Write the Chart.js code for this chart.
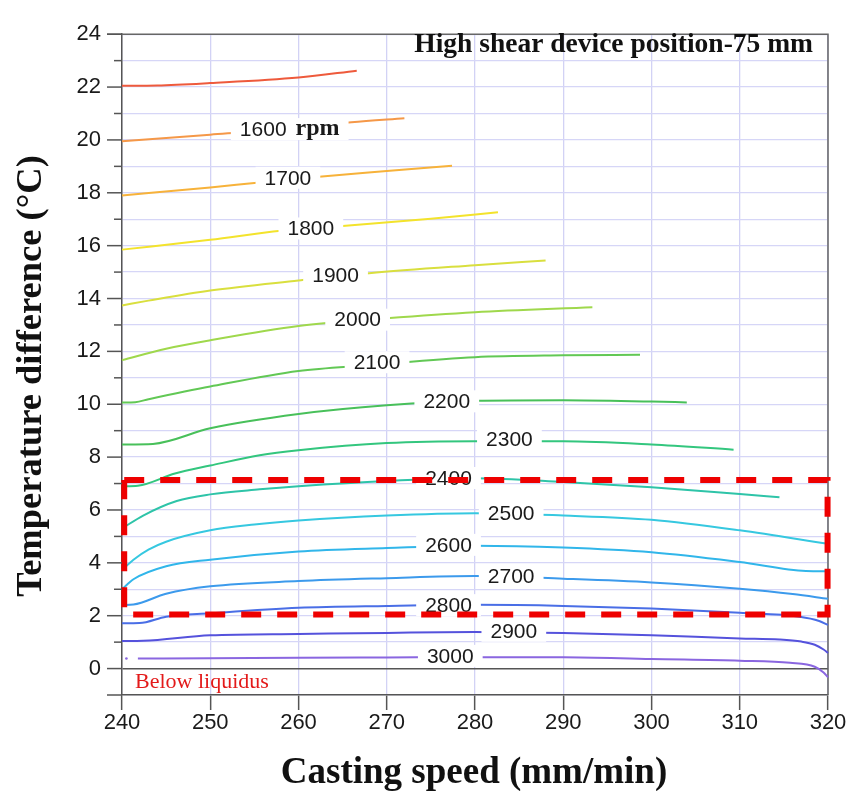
<!DOCTYPE html>
<html>
<head>
<meta charset="utf-8">
<script src="https://cdn.jsdelivr.net/npm/chart.js@4.4.1/dist/chart.umd.min.js"></script>
<style>
  body { margin: 0; background: #fff; }
  canvas { display: block; }
</style>
</head>
<body>
<canvas id="grafico" width="847" height="791"></canvas>
<script>
// Datos (velocidad de colada mm/min, diferencia de temperatura °C)
const x1500 = [240, 244, 250, 260, 266.6];
const y1500 = [22.05, 22.06, 22.15, 22.36, 22.62];
const x1600 = [240, 250, 256, 266, 272];
const y1600 = [19.95, 20.2, 20.35, 20.67, 20.82];
const x1700 = [240, 250, 255, 262, 270, 277.4];
const y1700 = [17.9, 18.2, 18.37, 18.6, 18.82, 19.02];
const x1800 = [240, 250, 258, 265, 275, 282.6];
const y1800 = [15.85, 16.22, 16.56, 16.74, 17.02, 17.26];
const x1900 = [240, 243, 250, 260, 268, 280, 288];
const y1900 = [13.74, 13.92, 14.3, 14.68, 14.96, 15.26, 15.44];
const x2000 = [240, 245, 250, 260, 270, 280, 293.3];
const y2000 = [11.67, 12.1, 12.42, 12.96, 13.25, 13.48, 13.67];
const x2100 = [240, 241.5, 243, 250, 260, 268, 280, 290, 298.7];
const y2100 = [10.07, 10.08, 10.19, 10.67, 11.26, 11.48, 11.78, 11.85, 11.87];
const x2200 = [240, 243.5, 250, 260, 270, 280, 290, 300, 304];
const y2200 = [8.48, 8.5, 9.09, 9.63, 9.96, 10.13, 10.15, 10.1, 10.07];
const x2300 = [240, 241.8, 246, 250, 255.6, 260, 270, 280, 290, 300, 309.3];
const y2300 = [6.9, 6.92, 7.38, 7.68, 8.07, 8.26, 8.53, 8.6, 8.6, 8.48, 8.28];
const x2400 = [240, 242.4, 246.2, 250, 255.6, 260, 270, 280, 290, 300, 310, 314.5];
const y2400 = [5.3, 5.79, 6.34, 6.59, 6.78, 6.9, 7.1, 7.2, 7.06, 6.86, 6.6, 6.48];
const x2500 = [240, 241.3, 243, 245, 250, 255, 260, 270, 280, 290, 300, 310, 320];
const y2500 = [3.73, 4.12, 4.5, 4.8, 5.23, 5.45, 5.6, 5.79, 5.88, 5.79, 5.63, 5.23, 4.72];
const x2600 = [240, 241.3, 245, 250, 260, 270, 280, 290, 300, 310, 317.5, 320];
const y2600 = [3.0, 3.38, 3.87, 4.12, 4.43, 4.56, 4.65, 4.58, 4.4, 4.03, 3.69, 3.68];
const x2700 = [240, 241.3, 245, 250, 260, 270, 280, 290, 300, 310, 316, 320];
const y2700 = [2.4, 2.42, 2.83, 3.11, 3.31, 3.42, 3.5, 3.4, 3.26, 3.02, 2.82, 2.64];
const x2800 = [240, 242, 245, 250, 260, 270, 280, 290, 300, 310, 316.8, 319, 320];
const y2800 = [1.71, 1.72, 1.96, 2.09, 2.3, 2.37, 2.41, 2.37, 2.27, 2.11, 1.96, 1.8, 1.65];
const x2900 = [240, 242.4, 250, 260, 270, 280, 290, 300, 310, 314.5, 317, 318.5, 319.5, 320];
const y2900 = [1.04, 1.05, 1.26, 1.31, 1.35, 1.38, 1.35, 1.26, 1.14, 1.1, 1.02, 0.9, 0.72, 0.59];
const x3000 = [241.8, 250, 260, 270, 280, 290, 300, 310, 315.7, 318.5, 319.5, 320];
const y3000 = [0.38, 0.39, 0.41, 0.42, 0.43, 0.43, 0.36, 0.3, 0.22, 0.07, -0.15, -0.33];
const puntoX = [240.5];
const puntoY = [0.38];

// Etiquetas de las curvas (rpm)
const etiquetas = ['1600', '1700', '1800', '1900', '2000', '2100', '2200', '2300',
  '2400', '2500', '2600', '2700', '2800', '2900', '3000'];
const etiquetaX = [256.0, 258.8, 261.4, 264.2, 266.7, 268.9, 276.8, 283.9,
  277.0, 284.1, 277.0, 284.1, 277.0, 284.4, 277.2];
const etiquetaY = [20.41, 18.57, 16.65, 14.89, 13.2, 11.59, 10.11, 8.69,
  7.21, 5.88, 4.68, 3.51, 2.4, 1.43, 0.48];

// Recuadro rojo discontinuo
const recuadroX = [240.25, 319.95, 319.95, 240.25, 240.25];
const recuadroY = [7.13, 7.13, 2.05, 2.05, 7.13];

// Ticks
const ticksX = [240, 250, 260, 270, 280, 290, 300, 310, 320];
const minY = -1, maxY = 24;

const curvas = [
  [x1500, y1500, '#ee5a3c'],
  [x1600, y1600, '#f59848'],
  [x1700, y1700, '#f7b23a'],
  [x1800, y1800, '#f3e32c'],
  [x1900, y1900, '#d9df3e'],
  [x2000, y2000, '#9fd84c'],
  [x2100, y2100, '#62c855'],
  [x2200, y2200, '#48c05a'],
  [x2300, y2300, '#33c67e'],
  [x2400, y2400, '#2ec4a8'],
  [x2500, y2500, '#36c8e0'],
  [x2600, y2600, '#31b6ea'],
  [x2700, y2700, '#3c9aec'],
  [x2800, y2800, '#4a6ee6'],
  [x2900, y2900, '#5552dc'],
  [x3000, y3000, '#8a66e0']
];

function puntos(xs, ys) {
  return xs.map((x, i) => ({ x: x, y: ys[i] }));
}

const datasets = [{
  data: puntos(recuadroX, recuadroY),
  borderColor: '#ee0000',
  borderWidth: 6,
  borderDash: [20, 16],
  borderCapStyle: 'butt',
  borderJoinStyle: 'miter',
  pointRadius: 0,
  tension: 0,
  clip: 10
}];

curvas.forEach(c => {
  datasets.push({
    data: puntos(c[0], c[1]),
    borderColor: c[2],
    borderWidth: 2,
    pointRadius: 0,
    cubicInterpolationMode: 'monotone',
    clip: 4
  });
});

datasets.push({
  data: puntos(puntoX, puntoY),
  showLine: false,
  pointRadius: 1.3,
  pointBackgroundColor: '#8a66e0',
  pointBorderWidth: 0
});

// Textos, etiquetas y marcos
const textosPlugin = {
  id: 'textos',
  beforeDatasetsDraw(chart) {
    // marco superior y derecho (debajo del recuadro rojo)
    const ctx = chart.ctx;
    const a = chart.chartArea;
    ctx.save();
    ctx.strokeStyle = '#666';
    ctx.lineWidth = 1.5;
    ctx.beginPath();
    ctx.moveTo(a.left - 15, a.top);
    ctx.lineTo(a.right, a.top);
    ctx.lineTo(a.right, a.bottom);
    ctx.stroke();
    ctx.restore();
  },
  beforeDatasetDraw(chart, args) {
    if (args.index !== 0) return;
    const ctx = chart.ctx;
    const sx = chart.scales.x, sy = chart.scales.y;
    ctx.save();
    ctx.textBaseline = 'middle';
    etiquetas.forEach((txt, i) => {
      const px = sx.getPixelForValue(etiquetaX[i]);
      const py = sy.getPixelForValue(etiquetaY[i]);
      ctx.font = '21px "Liberation Sans", Arial, sans-serif';
      const w = ctx.measureText(txt).width;
      let total = w;
      let wr = 0;
      if (i === 0) {
        ctx.font = 'bold 24px "Liberation Serif", "Times New Roman", serif';
        wr = ctx.measureText('rpm').width;
        total = w + 9 + wr;
      }
      const left = px - w / 2;
      ctx.fillStyle = '#fff';
      ctx.fillRect(left - 9, py - 11, total + 18, 22);
      ctx.fillStyle = '#1a1a1a';
      ctx.textAlign = 'left';
      ctx.font = '21px "Liberation Sans", Arial, sans-serif';
      ctx.fillText(txt, left, py + 1);
      if (i === 0) {
        ctx.font = 'bold 24px "Liberation Serif", "Times New Roman", serif';
        ctx.fillText('rpm', left + w + 9, py);
      }
    });
    ctx.restore();
  },
  afterDraw(chart) {
    const ctx = chart.ctx;
    const a = chart.chartArea;
    const sy = chart.scales.y;
    ctx.save();
    // ticks del eje y (mayores y menores)
    ctx.strokeStyle = '#555';
    ctx.lineWidth = 1.5;
    for (let v = minY; v <= maxY; v++) {
      const py = sy.getPixelForValue(v);
      const largo = (v % 2 === 0 || v === minY) ? 15 : 8;
      ctx.beginPath();
      ctx.moveTo(a.left - largo, py);
      ctx.lineTo(a.left, py);
      ctx.stroke();
    }
    // título interno
    ctx.fillStyle = '#111';
    ctx.font = 'bold 27.5px "Liberation Serif", "Times New Roman", serif';
    ctx.textAlign = 'right';
    ctx.textBaseline = 'alphabetic';
    ctx.fillText('High shear device position-75 mm', 813, 52);
    // Below liquidus
    ctx.fillStyle = '#e31a1a';
    ctx.font = '22px "Liberation Serif", "Times New Roman", serif';
    ctx.textAlign = 'left';
    ctx.fillText('Below liquidus', 135, 688);
    // títulos de ejes
    ctx.fillStyle = '#111';
    ctx.font = 'bold 37px "Liberation Serif", "Times New Roman", serif';
    ctx.textAlign = 'center';
    ctx.fillText('Casting speed (mm/min)', 474, 783);
    ctx.translate(41, 376);
    ctx.rotate(-Math.PI / 2);
    ctx.font = 'bold 36.5px "Liberation Serif", "Times New Roman", serif';
    ctx.fillText('Temperature difference (°C)', 0, 0);
    ctx.restore();
  }
};

Chart.defaults.font.family = '"Liberation Sans", Arial, sans-serif';

new Chart(document.getElementById('grafico'), {
  type: 'line',
  data: { datasets: datasets },
  options: {
    responsive: false,
    animation: false,
    layout: { padding: { top: 20, right: 19, left: 0, bottom: 0 } },
    plugins: { legend: { display: false }, tooltip: { enabled: false } },
    scales: {
      x: {
        type: 'linear',
        min: 240,
        max: 320,
        afterFit(scale) { scale.height = 96; },
        afterBuildTicks(scale) { scale.ticks = ticksX.map(v => ({ value: v })); },
        ticks: {
          autoSkip: false,
          maxRotation: 0,
          padding: 0,
          color: '#1a1a1a',
          font: { size: 22 }
        },
        grid: {
          color: '#d2d2f5',
          lineWidth: 1.3,
          tickLength: 15,
          tickColor: '#555',
          tickWidth: 1.5
        },
        border: { color: '#555', width: 1.5 }
      },
      y: {
        type: 'linear',
        min: minY,
        max: maxY,
        afterFit(scale) { scale.width = 122; },
        ticks: {
          stepSize: 1,
          autoSkip: false,
          padding: 21,
          color: '#1a1a1a',
          font: { size: 22 },
          callback: v => (v % 2 === 0 ? v : '')
        },
        grid: {
          drawTicks: false,
          color: c => (c.tick && c.tick.value === 0 ? '#555' : '#d6d6f7'),
          lineWidth: c => (c.tick && c.tick.value === 0 ? 1.5 : 1.3)
        },
        border: { color: '#555', width: 1.5 }
      }
    }
  },
  plugins: [textosPlugin]
});
</script>
</body>
</html>
